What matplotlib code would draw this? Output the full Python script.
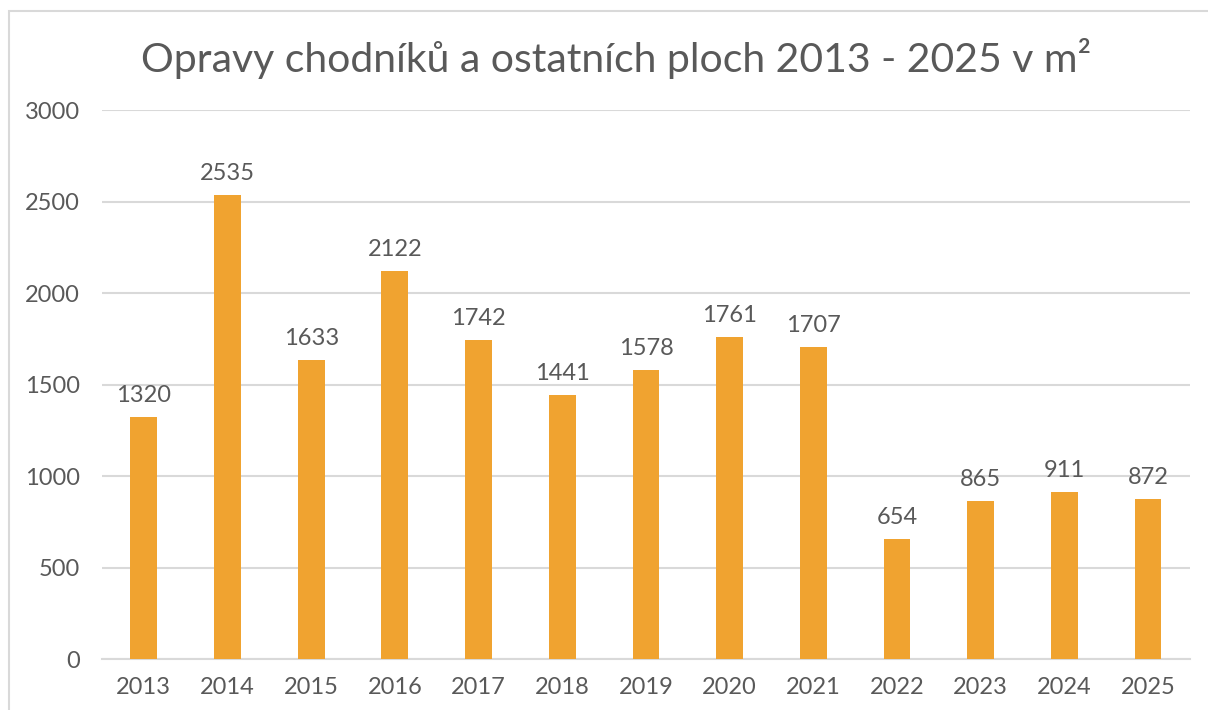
import numpy as np
import matplotlib.pyplot as plt
from matplotlib.patches import Rectangle

# data
roky = ['2013', '2014', '2015', '2016', '2017', '2018', '2019',
        '2020', '2021', '2022', '2023', '2024', '2025']
plochy = [1320, 2535, 1633, 2122, 1742, 1441, 1578, 1761, 1707, 654, 865, 911, 872]

seda = '#595959'
oranzova = '#F0A330'

plt.rcParams['font.family'] = ['Lato', 'DejaVu Sans']

fig = plt.figure(figsize=(12.08, 7.10), dpi=100)
ax = fig.add_axes([0.0844, 0.0718, 0.9006, 0.7732])

x = np.arange(len(roky))
bars = ax.bar(x, plochy, width=0.32, color=oranzova, zorder=3)
ax.bar_label(bars, labels=[str(v) for v in plochy], padding=8,
             fontsize=17, color=seda)

ax.set_xlim(-0.5, len(roky) - 0.5)
ax.set_ylim(0, 3000)
ax.set_yticks(np.arange(0, 3001, 500))
ax.set_xticks(x)
ax.set_xticklabels(roky)
ax.yaxis.grid(True, color='#D9D9D9', linewidth=1.5, zorder=0)
for s in ['top', 'right', 'left']:
    ax.spines[s].set_visible(False)
ax.spines['bottom'].set_color('#D9D9D9')
ax.spines['bottom'].set_linewidth(1.5)
ax.tick_params(axis='both', length=0, labelsize=17, labelcolor=seda)
ax.tick_params(axis='y', pad=16)
ax.tick_params(axis='x', pad=13)

fig.text(0.51, 0.918, 'Opravy chodníků a ostatních ploch 2013 - 2025 v m²',
         ha='center', va='center', fontsize=29.5, color=seda)

# ramecek grafu
fig.patches.append(Rectangle((9 / 1208, -0.1), 1.2, 1 - 11 / 710 + 0.1,
                             transform=fig.transFigure, fill=False,
                             edgecolor='#D9D9D9', linewidth=1.5))

fig.savefig('out.png', dpi=100)
